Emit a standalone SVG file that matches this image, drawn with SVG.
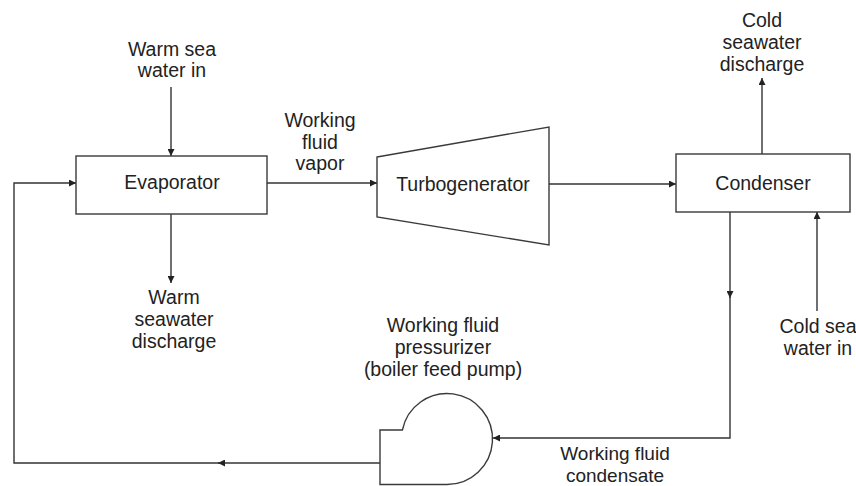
<svg xmlns="http://www.w3.org/2000/svg" width="856" height="486" viewBox="0 0 856 486">
<style>
.s{fill:#fff;stroke:#3a3a3a;stroke-width:1.4}
.c{fill:none;stroke:#333;stroke-width:1.4}
.t{font-family:"Liberation Sans",Arial,sans-serif;font-size:19.5px;fill:#222;text-anchor:middle}
.b{font-size:19px}
</style>
<defs>
<marker id="a" viewBox="0 0 10 10" refX="10" refY="5" markerUnits="userSpaceOnUse" markerWidth="9" markerHeight="7" orient="auto">
<path d="M0,0 L10,5 L0,10 z" fill="#222"/>
</marker>
</defs>
<rect width="856" height="486" fill="#fff"/>
<g id="connectors">
<path class="c" d="M171 87 V156" marker-end="url(#a)"/>
<path class="c" d="M171 214 V283" marker-end="url(#a)"/>
<path class="c" d="M267 183 H377" marker-end="url(#a)"/>
<path class="c" d="M549 184 H676" marker-end="url(#a)"/>
<path class="c" d="M762 154 V78" marker-end="url(#a)"/>
<path class="c" d="M817 311 V212" marker-end="url(#a)"/>
<path class="c" d="M730 212 V298" marker-end="url(#a)"/>
<path class="c" d="M730 296 V438 H493" marker-end="url(#a)"/>
<path class="c" d="M380 463 H218" marker-end="url(#a)"/>
<path class="c" d="M220 463 H14 V183 H76" marker-end="url(#a)"/>
</g>
<g id="evaporator">
<rect class="s" x="76" y="156" width="191" height="58"/>
<text class="t" x="172" y="189">Evaporator</text>
</g>
<g id="turbogenerator">
<polygon class="s" points="377,157 549,127 549,245 377,217"/>
<text class="t" x="463" y="191">Turbogenerator</text>
</g>
<g id="condenser">
<rect class="s" x="676" y="154" width="174" height="58"/>
<text class="t" x="763" y="190">Condenser</text>
</g>
<g id="pump">
<path class="s" d="M402.4 430 H380 V484.5 H447 A45.5 45.5 0 1 0 402.4 430 Z"/>
</g>
<g id="labels">
<text class="t" x="172" y="56">Warm sea</text>
<text class="t" x="172" y="77">water in</text>
<text class="t" x="320" y="127">Working</text>
<text class="t" x="320" y="149">fluid</text>
<text class="t" x="320" y="170">vapor</text>
<text class="t" x="762" y="27">Cold</text>
<text class="t" x="762" y="49">seawater</text>
<text class="t" x="762" y="71">discharge</text>
<text class="t" x="174" y="304">Warm</text>
<text class="t" x="174" y="326">seawater</text>
<text class="t" x="174" y="348">discharge</text>
<text class="t" x="443" y="332">Working fluid</text>
<text class="t" x="443" y="354">pressurizer</text>
<text class="t" x="443" y="376">(boiler feed pump)</text>
<text class="t" x="818" y="333">Cold sea</text>
<text class="t" x="818" y="355">water in</text>
<text class="t b" x="615" y="460">Working fluid</text>
<text class="t b" x="615" y="481.5">condensate</text>
</g>
</svg>
